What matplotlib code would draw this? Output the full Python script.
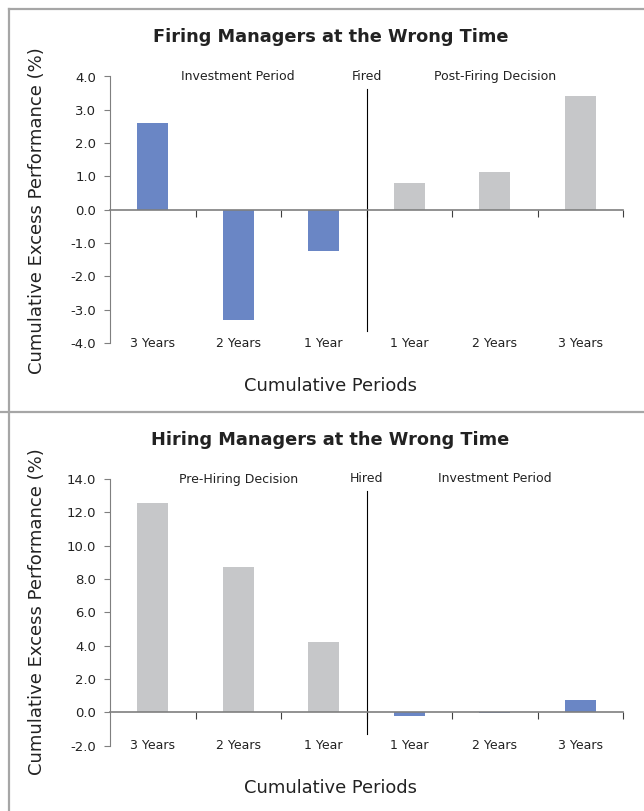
import matplotlib
matplotlib.use('Agg')
import matplotlib.pyplot as plt
from matplotlib.lines import Line2D

categories = ['3 Years', '2 Years', '1 Year', '1 Year', '2 Years', '3 Years']

firing_values = [2.6, -3.3, -1.25, 0.8, 1.13, 3.42]
firing_colors = ['blue', 'blue', 'blue', 'grey', 'grey', 'grey']
firing_notes = ['Investment Period', 'Fired', 'Post-Firing Decision']

hiring_values = [12.56, 8.74, 4.24, -0.24, -0.05, 0.76]
hiring_colors = ['grey', 'grey', 'grey', 'blue', 'blue', 'blue']
hiring_notes = ['Pre-Hiring Decision', 'Hired', 'Investment Period']

palette = {'blue': '#6A86C5', 'grey': '#C6C7C9'}
axis_grey = '#7F7F7F'
text_color = '#222222'

W, H = 644, 811
fig = plt.figure(figsize=(W / 100, H / 100), dpi=100)

# panel frames
frame = '#A6A6A6'
fig.add_artist(Line2D([9 / W, 9 / W], [0, 1 - 9 / H], color=frame, lw=1.6))
fig.add_artist(Line2D([9 / W, 1], [1 - 9 / H, 1 - 9 / H], color=frame, lw=1.6))
fig.add_artist(Line2D([0, 1], [1 - 412 / H, 1 - 412 / H], color=frame, lw=1.6))


def panel(rect, values, colors, notes, ylim, yticks, title, title_y, ylab_y, xlab_y):
    ax = fig.add_axes(rect)
    x = range(len(values))
    ax.bar(x, values, width=0.36, color=[palette[c] for c in colors], zorder=2)
    ax.set_xlim(-0.5, len(values) - 0.5)
    ax.set_ylim(*ylim)
    ax.set_yticks(yticks)
    ax.set_yticklabels(['%.1f' % v for v in yticks], fontsize=9.5, color=text_color)
    for s in ['top', 'right']:
        ax.spines[s].set_visible(False)
    ax.spines['left'].set_color(axis_grey)
    ax.spines['bottom'].set_position(('data', 0))
    ax.spines['bottom'].set_color(axis_grey)
    ax.spines['bottom'].set_linewidth(1.2)
    ax.spines['bottom'].set_zorder(3)
    ax.set_xticks([i + 0.5 for i in x])
    ax.set_xticklabels([])
    ax.tick_params(axis='x', direction='out', length=5, color='#404040')
    ax.tick_params(axis='y', direction='out', length=4, color=axis_grey, pad=6)
    for i, lab in enumerate(categories):
        ax.text(i, 0, lab, transform=ax.get_xaxis_transform(), ha='center', va='center',
                fontsize=9, color=text_color)
    ax.plot([2.5, 2.5], [0.045, 0.954], color='black', lw=0.8, transform=ax.get_xaxis_transform())
    for xi, note in zip([1, 2.5, 4], notes):
        ax.text(xi, 1.0, note, transform=ax.get_xaxis_transform(), ha='center', va='center',
                fontsize=9, color=text_color)
    fig.text(0.513, title_y, title, ha='center', va='center', fontsize=12.8, fontweight='bold',
             color=text_color)
    fig.text(0.057, ylab_y, 'Cumulative Excess Performance (%)', rotation=90, ha='center',
             va='center', fontsize=13, color=text_color)
    fig.text(0.513, xlab_y, 'Cumulative Periods', ha='center', va='center', fontsize=12.9,
             color=text_color)
    return ax


panel([110 / W, 1 - 343 / H, 513 / W, 266.5 / H], firing_values, firing_colors, firing_notes,
      (-4, 4), [-4, -3, -2, -1, 0, 1, 2, 3, 4], 'Firing Managers at the Wrong Time',
      1 - 37 / H, 1 - 211 / H, 1 - 386 / H)
panel([110 / W, 1 - 745.7 / H, 513 / W, 266.7 / H], hiring_values, hiring_colors, hiring_notes,
      (-2, 14), [-2, 0, 2, 4, 6, 8, 10, 12, 14], 'Hiring Managers at the Wrong Time',
      1 - 440 / H, 1 - 612 / H, 1 - 788 / H)

fig.savefig('out.png', dpi=100)
